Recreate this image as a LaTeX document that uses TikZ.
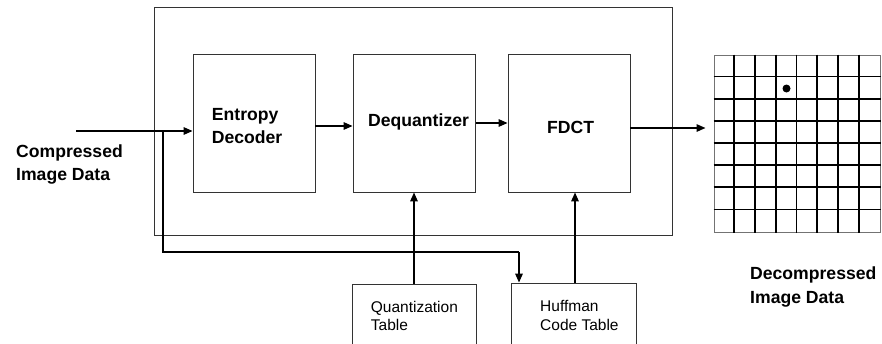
\documentclass[tikz,border=0pt]{standalone}
\usepackage{fontspec}
\setmainfont{Liberation Sans}
\usetikzlibrary{arrows.meta,calc}

\tikzset{
  box/.style={draw=black!80, line width=0.9pt, inner sep=0pt, fill=none},
  arr/.style={draw=black, line width=1.5pt, -{Triangle[length=9pt,width=7.5pt]}},
  wire/.style={draw=black, line width=1.5pt},
  bigtxt/.style={inner sep=0pt, anchor=base west, font=\bfseries\fontsize{17.6}{23}\selectfont},
  smalltxt/.style={inner sep=0pt, anchor=base west, font=\fontsize{15.5}{18}\selectfont},
  gridline/.style={draw=black, line width=1.6pt},
}

\begin{document}
\begin{tikzpicture}[x=1pt, y=-1pt]
  \useasboundingbox (0,0) rectangle (882,343);

  % decoder frame and processing stages
  \node[box, minimum width=518.7pt, minimum height=227.5pt] (frame) at (413.35,121.25) {};
  \node[box, minimum width=122pt, minimum height=138pt] (ent) at (254,123) {};
  \node[box, minimum width=122.7pt, minimum height=138pt] (deq) at (414.35,123) {};
  \node[box, minimum width=122pt, minimum height=138pt] (fdct) at (569,123) {};

  % tables below the frame (run past the lower edge)
  \node[box, minimum width=124pt, minimum height=70pt] (quant) at (414,319) {};
  \node[box, minimum width=124.3pt, minimum height=70pt] (huff) at (573.85,318) {};

  % stage labels
  \node[bigtxt] (entA) at (211.7,120) {Entropy};
  \node[bigtxt] (entB) at (211.7,143) {Decoder};
  \node[bigtxt] (deqL) at (368,126) {Dequantizer};
  \node[bigtxt] (fdctL) at (547,133) {FDCT};
  \node[smalltxt] (quantA) at (370.7,312) {Quantization};
  \node[smalltxt] (quantB) at (370.7,330) {Table};
  \node[smalltxt] (huffA) at (540,311) {Huffman};
  \node[smalltxt] (huffB) at (540,330) {Code Table};

  % input / output captions
  \node[bigtxt] (inA) at (16,157) {Compressed};
  \node[bigtxt] (inB) at (16,180) {Image Data};
  \node[bigtxt] (outA) at (750,279) {Decompressed};
  \node[bigtxt] (outB) at (750,303) {Image Data};

  % 8x8 output block
  \node[draw=black!55, line width=1pt, minimum width=166pt, minimum height=177pt, inner sep=0pt] (blk) at (797,143.5) {};
  \foreach \i in {1,...,7} {
    \draw[gridline] ($(blk.north west)+(\i*20.75,0)$) -- ($(blk.south west)+(\i*20.75,0)$);
    \draw[gridline] ($(blk.north west)+(0,\i*22.125)$) -- ($(blk.north east)+(0,\i*22.125)$);
  }
  \fill (786.5,88.5) circle (4pt);

  % data flow
  \coordinate (src) at (76,131);
  \coordinate (tap) at (163,131);
  \coordinate (bend1) at (163,252);
  \coordinate (bend2) at (519,252);
  \coordinate (hufftap) at (575,0);
  \coordinate (outtip) at ($(blk.west |- {(0,128)})+(-8,0)$);
  \draw[arr] (src) -- (ent.west |- src);
  \draw[wire] (tap) -- (bend1) -- (bend2);
  \draw[arr] (bend2) -- (bend2 |- huff.north);
  \draw[arr] (ent.east |- {(0,126)}) -- (deq.west |- {(0,126)});
  \draw[arr] (deq.east |- {(0,123)}) -- (fdct.west |- {(0,123)});
  \draw[arr] (fdct.east |- outtip) -- (outtip);
  \draw[arr] (quant.north) -- (quant.north |- deq.south);
  \draw[arr] (hufftap |- huff.north) -- (hufftap |- fdct.south);
\end{tikzpicture}
\end{document}
